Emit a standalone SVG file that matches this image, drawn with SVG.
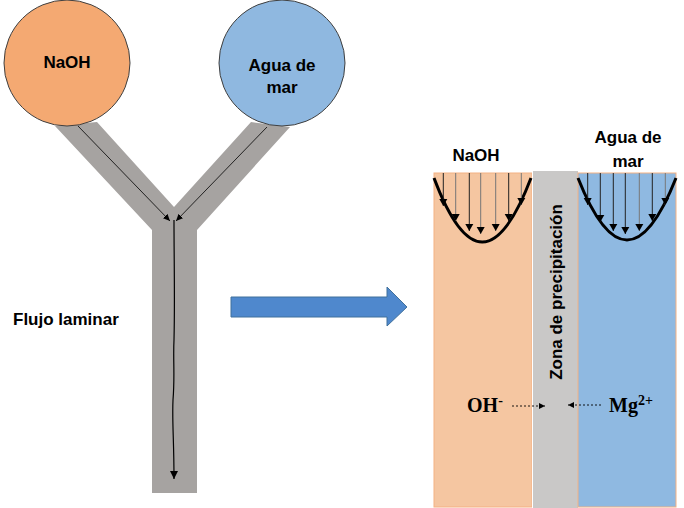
<svg xmlns="http://www.w3.org/2000/svg" width="684" height="508" viewBox="0 0 684 508">
<style>
.lbl{font-family:"Liberation Sans",Arial,sans-serif;font-weight:bold;font-size:17px;fill:#000}
.ion{font-family:"Liberation Serif","Times New Roman",serif;font-weight:bold;font-size:20px;fill:#000}
.sup{font-size:14px}
.thin{stroke:#000;stroke-width:0.8;fill:none}
.pl{stroke:#222;stroke-width:1;fill:none}
.pl2{stroke:#777;stroke-width:1;fill:none}
.para{stroke:#000;stroke-width:3;fill:none}
.dot{stroke:#000;stroke-width:0.9;stroke-dasharray:2 2;fill:none}
</style>
<defs>
<marker id="ah" markerWidth="8" markerHeight="8" refX="7" refY="4" orient="auto" markerUnits="userSpaceOnUse">
<path d="M0,0.8 L7,4 L0,7.2 Z" fill="#000"/>
</marker>
<marker id="ah2" markerWidth="9" markerHeight="9" refX="8" refY="4.5" orient="auto" markerUnits="userSpaceOnUse">
<path d="M0,0.5 L8,4.5 L0,8.5 Z" fill="#000"/>
</marker>
<marker id="ahp" markerWidth="9" markerHeight="9" refX="7" refY="4.5" orient="auto" markerUnits="userSpaceOnUse">
<path d="M0,0.5 L7,4.5 L0,8.5 Z" fill="#000"/>
</marker>
<marker id="ahs" markerWidth="7" markerHeight="7" refX="6" refY="3.5" orient="auto" markerUnits="userSpaceOnUse">
<path d="M0,0.5 L6,3.5 L0,6.5 Z" fill="#000"/>
</marker>
</defs>

<g id="y-channel">
<polygon points="55,126 97,122 174,207 251,122 290,127 197,230 197,493 152,493 152,230" fill="#A6A3A1"/>
</g>

<g id="naoh-source">
<circle cx="67" cy="63" r="63" fill="#F4A972" stroke="#3F3F3F" stroke-width="1"/>
<text class="lbl" x="67" y="68" text-anchor="middle">NaOH</text>
</g>

<g id="agua-source">
<circle cx="282" cy="63" r="63" fill="#8FB8E0" stroke="#3F3F3F" stroke-width="1"/>
<text class="lbl" x="282" y="71" text-anchor="middle">Agua de</text>
<text class="lbl" x="282" y="93" text-anchor="middle">mar</text>
</g>

<g id="flujo-label">
<text class="lbl" x="13" y="325">Flujo laminar</text>
</g>

<g id="big-arrow">
<polygon points="231,297 387,297 387,287 407,307 387,326 387,317 231,317" fill="#4F88CD" stroke="#41719C" stroke-width="1"/>
</g>

<g id="naoh-stream">
<rect x="434" y="173" width="98" height="334" fill="#F5C6A1" stroke="#F4B183" stroke-width="1"/>
<text class="lbl" x="476" y="161" text-anchor="middle">NaOH</text>
</g>

<g id="zona">
<rect x="532" y="171" width="46" height="337" fill="#C9C8C7"/>
<line x1="532.5" y1="171" x2="532.5" y2="508" stroke="#fff" stroke-width="1"/>
<text class="lbl" style="font-size:17px" transform="translate(562,292) rotate(-90)" text-anchor="middle">Zona de precipitación</text>
</g>

<g id="agua-stream">
<rect x="578" y="173" width="98" height="334" fill="#8FB9E1" stroke="#F4B183" stroke-width="1"/>
<text class="lbl" x="628" y="143" text-anchor="middle">Agua de</text>
<text class="lbl" x="628" y="167" text-anchor="middle">mar</text>
</g>

<g id="connectors">
<line class="thin" x1="78" y1="126" x2="170" y2="221" marker-end="url(#ah)"/>
<line class="thin" x1="267" y1="127" x2="176" y2="221" marker-end="url(#ah)"/>
<path d="M174,220 C174,260 175,300 174,340 C173,360 175,375 173,400 C172,420 174,440 174,479" stroke="#000" stroke-width="1.2" fill="none" marker-end="url(#ah2)"/>

<path class="para" d="M434,178 Q482,306 531,178"/>
<line class="pl" x1="443.3" y1="173" x2="443.3" y2="206" marker-end="url(#ahp)"/>
<line class="pl2" x1="455.7" y1="173" x2="455.7" y2="221" marker-end="url(#ahp)"/>
<line class="pl" x1="469.3" y1="173" x2="469.3" y2="231" marker-end="url(#ahp)"/>
<line class="pl2" x1="480.7" y1="173" x2="480.7" y2="234" marker-end="url(#ahp)"/>
<line class="pl2" x1="495.7" y1="173" x2="495.7" y2="231" marker-end="url(#ahp)"/>
<line class="pl" x1="508.7" y1="173" x2="508.7" y2="221" marker-end="url(#ahp)"/>
<line class="pl2" x1="521.3" y1="173" x2="521.3" y2="205" marker-end="url(#ahp)"/>

<path class="para" d="M578,178 Q627,302 676,178"/>
<line class="pl" x1="587.7" y1="173" x2="587.7" y2="205" marker-end="url(#ahp)"/>
<line class="pl" x1="600.3" y1="173" x2="600.3" y2="222" marker-end="url(#ahp)"/>
<line class="pl" x1="613.3" y1="173" x2="613.3" y2="231" marker-end="url(#ahp)"/>
<line class="pl" x1="625.3" y1="173" x2="625.3" y2="234" marker-end="url(#ahp)"/>
<line class="pl2" x1="639.3" y1="173" x2="639.3" y2="231" marker-end="url(#ahp)"/>
<line class="pl" x1="652.3" y1="173" x2="652.3" y2="221" marker-end="url(#ahp)"/>
<line class="pl2" x1="665.3" y1="173" x2="665.3" y2="205" marker-end="url(#ahp)"/>

<line class="dot" x1="512" y1="406" x2="545" y2="406" marker-end="url(#ahs)"/>
<line class="dot" x1="601" y1="405" x2="568" y2="405" marker-end="url(#ahs)"/>
</g>

<g id="ions">
<text class="ion" x="467" y="412">OH<tspan class="sup" dy="-7">-</tspan></text>
<text class="ion" x="609" y="412">Mg<tspan class="sup" dy="-7">2+</tspan></text>
</g>
</svg>
